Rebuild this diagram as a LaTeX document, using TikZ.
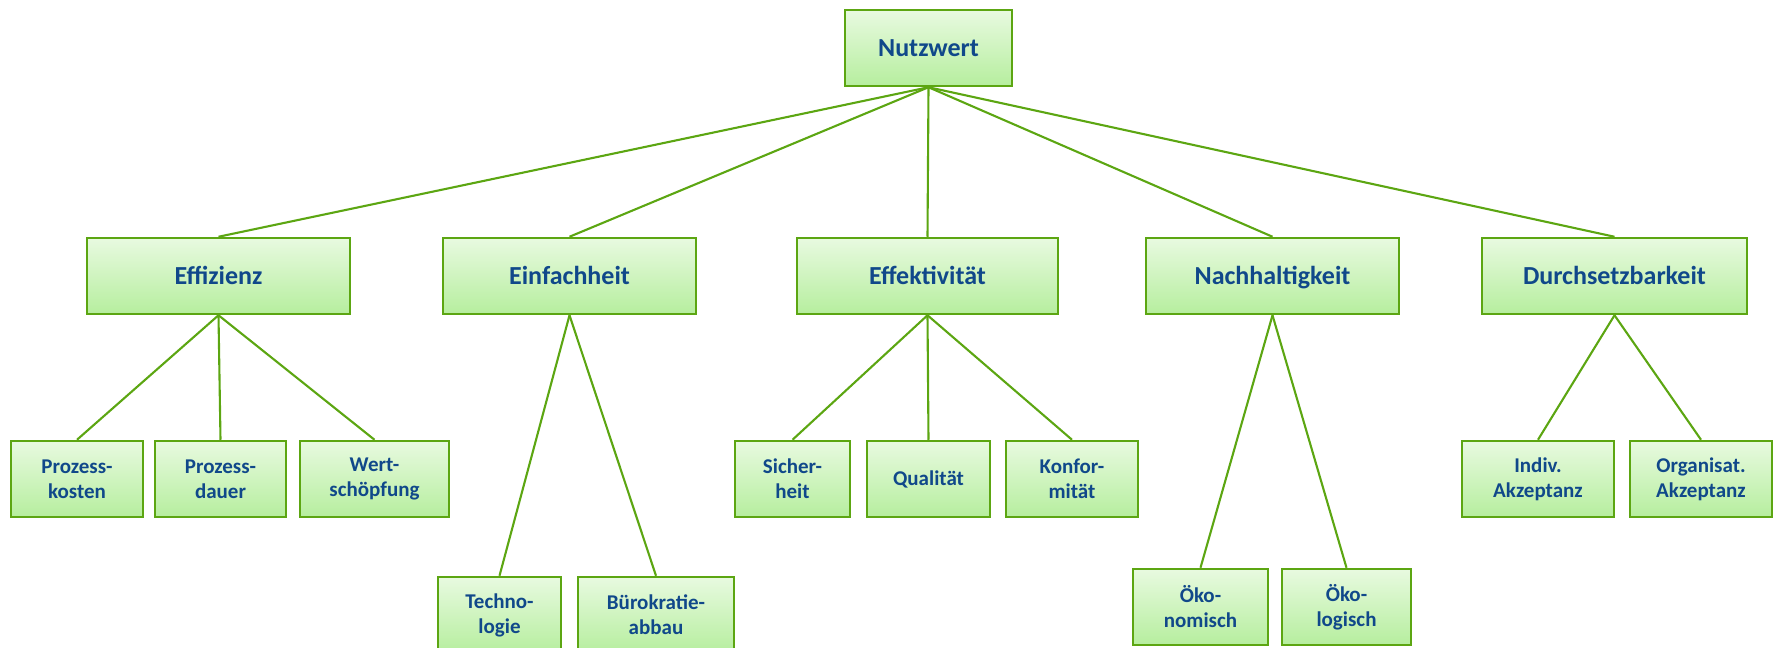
\documentclass[tikz,border=0pt]{standalone}
\usepackage{fontspec}
\setmainfont{Carlito}
\definecolor{txtblue}{RGB}{16,72,138}
\definecolor{boxgreen}{RGB}{92,166,18}
\definecolor{filltop}{RGB}{232,250,224}
\definecolor{fillbot}{RGB}{182,238,158}
\begin{document}
\begin{tikzpicture}[x=0.5pt,y=-0.5pt,
  box/.style={draw=boxgreen, line width=1.25pt, top color=filltop, bottom color=fillbot,
    text=txtblue, font=\bfseries, inner sep=0pt, minimum height=38pt, align=center},
  big/.style={box, font=\fontsize{13}{15}\selectfont\bfseries, text height=8.4pt, text depth=0pt},
  small/.style={box, font=\fontsize{10.5}{12.5}\selectfont\bfseries},
  conn/.style={draw=boxgreen, line width=1.05pt}]
\useasboundingbox (0,0) rectangle (1773,648);
% level 1
\node[big, minimum width=83.5pt] (nutz) at (928.5,48) {Nutzwert};
% level 2
\node[big, minimum width=131.5pt] (eff) at (218.5,276) {Effizienz};
\node[big, minimum width=126.5pt] (einf) at (569.5,276) {Einfachheit};
\node[big, minimum width=130.5pt] (effk) at (927.5,276) {Effektivität};
\node[big, minimum width=126.5pt] (nach) at (1272.5,276) {Nachhaltigkeit};
\node[big, minimum width=132.5pt] (durch) at (1614.5,276) {Durchsetzbarkeit};
% level 3
\node[small, minimum width=66pt] (pk) at (77,479) {Prozess-\\kosten};
\node[small, minimum width=65.5pt] (pd) at (220.5,479) {Prozess-\\dauer};
\node[small, minimum width=74.5pt] (ws) at (374.5,479) {Wert-\\schöpfung};
\node[small, minimum width=57.5pt] (si) at (792.5,479) {Sicher-\\heit};
\node[small, minimum width=61.5pt] (qu) at (928.5,479) {Qualität};
\node[small, minimum width=66pt] (ko) at (1072,479) {Konfor-\\mität};
\node[small, minimum width=76pt] (iv) at (1538,479) {Indiv.\\Akzeptanz};
\node[small, minimum width=71pt] (oa) at (1701,479) {Organisat.\\Akzeptanz};
% level 4
\node[small, minimum width=61.5pt] (te) at (499.5,615) {Techno-\\logie};
\node[small, minimum width=78pt] (bk) at (656,615) {Bürokratie-\\abbau};
\node[small, minimum width=67.5pt] (okn) at (1200.5,607) {Öko-\\nomisch};
\node[small, minimum width=64.5pt] (okl) at (1346.5,607) {Öko-\\logisch};
% connectors
\foreach \c in {eff,einf,effk,nach,durch} \draw[conn] (nutz.south) -- (\c.north);
\foreach \c in {pk,pd,ws} \draw[conn] (eff.south) -- (\c.north);
\foreach \c in {te,bk} \draw[conn] (einf.south) -- (\c.north);
\foreach \c in {si,qu,ko} \draw[conn] (effk.south) -- (\c.north);
\foreach \c in {okn,okl} \draw[conn] (nach.south) -- (\c.north);
\foreach \c in {iv,oa} \draw[conn] (durch.south) -- (\c.north);
\end{tikzpicture}
\end{document}
